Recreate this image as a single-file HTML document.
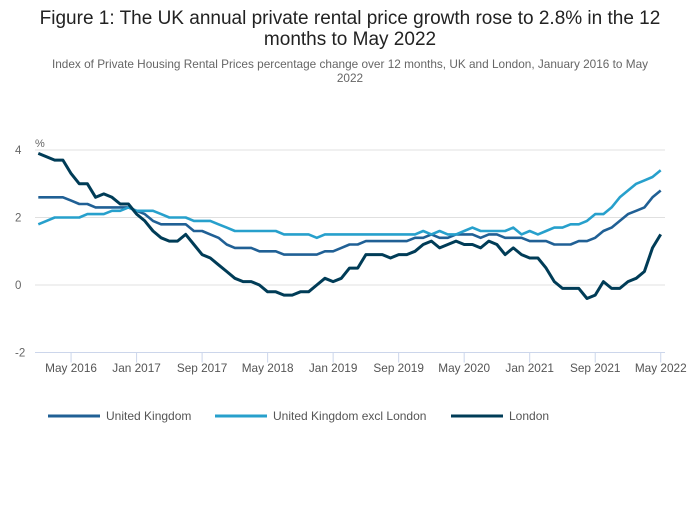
<!DOCTYPE html>
<html><head><meta charset="utf-8">
<style>
body{margin:0;background:#fff;font-family:"Liberation Sans",sans-serif;}
svg text{font-family:"Liberation Sans",sans-serif;}
</style></head>
<body>
<svg id="chart" width="700" height="502" viewBox="0 0 700 502">
<text x="350" y="24" text-anchor="middle" font-size="19" fill="#222">Figure 1: The UK annual private rental price growth rose to 2.8% in the 12</text>
<text x="350" y="45" text-anchor="middle" font-size="19" fill="#222">months to May 2022</text>
<text x="350" y="68" text-anchor="middle" font-size="11.8" fill="#666">Index of Private Housing Rental Prices percentage change over 12 months, UK and London, January 2016 to May</text>
<text x="350" y="82" text-anchor="middle" font-size="11.8" fill="#666">2022</text>
<text x="35" y="147" font-size="11" fill="#666">%</text>
<g id="grid"></g><g id="xaxis"></g><g id="series"></g><g id="legend"></g>
</svg>
<script>
const ns="http://www.w3.org/2000/svg";
const yTicks=[4,2,0,-2];
const xTickLabels=["May 2016","Jan 2017","Sep 2017","May 2018","Jan 2019","Sep 2019","May 2020","Jan 2021","Sep 2021","May 2022"];
const xTickIdx=[4,12,20,28,36,44,52,60,68,76];
const seriesNames=["United Kingdom","United Kingdom excl London","London"];
const ukValues=[2.6,2.6,2.6,2.6,2.5,2.4,2.4,2.3,2.3,2.3,2.3,2.3,
2.2,2.1,1.9,1.8,1.8,1.8,1.8,1.6,1.6,1.5,1.4,1.2,
1.1,1.1,1.1,1.0,1.0,1.0,0.9,0.9,0.9,0.9,0.9,1.0,
1.0,1.1,1.2,1.2,1.3,1.3,1.3,1.3,1.3,1.3,1.4,1.4,
1.5,1.4,1.4,1.5,1.5,1.5,1.4,1.5,1.5,1.4,1.4,1.4,
1.3,1.3,1.3,1.2,1.2,1.2,1.3,1.3,1.4,1.6,1.7,1.9,
2.1,2.2,2.3,2.6,2.8];
const exLondonValues=[1.8,1.9,2.0,2.0,2.0,2.0,2.1,2.1,2.1,2.2,2.2,2.3,
2.2,2.2,2.2,2.1,2.0,2.0,2.0,1.9,1.9,1.9,1.8,1.7,
1.6,1.6,1.6,1.6,1.6,1.6,1.5,1.5,1.5,1.5,1.4,1.5,
1.5,1.5,1.5,1.5,1.5,1.5,1.5,1.5,1.5,1.5,1.5,1.6,
1.5,1.6,1.5,1.5,1.6,1.7,1.6,1.6,1.6,1.6,1.7,1.5,
1.6,1.5,1.6,1.7,1.7,1.8,1.8,1.9,2.1,2.1,2.3,2.6,
2.8,3.0,3.1,3.2,3.4];
const londonValues=[3.9,3.8,3.7,3.7,3.3,3.0,3.0,2.6,2.7,2.6,2.4,2.4,
2.1,1.9,1.6,1.4,1.3,1.3,1.5,1.2,0.9,0.8,0.6,0.4,
0.2,0.1,0.1,0.0,-0.2,-0.2,-0.3,-0.3,-0.2,-0.2,0.0,0.2,
0.1,0.2,0.5,0.5,0.9,0.9,0.9,0.8,0.9,0.9,1.0,1.2,
1.3,1.1,1.2,1.3,1.2,1.2,1.1,1.3,1.2,0.9,1.1,0.9,
0.8,0.8,0.5,0.1,-0.1,-0.1,-0.1,-0.4,-0.3,0.1,-0.1,-0.1,
0.1,0.2,0.4,1.1,1.5];
const colors=["#206095","#27a0cc","#003c57"];
const X=i=>38.3+i*8.19;
const Y=v=>285-v*33.75;
function mk(t,a,p){const e=document.createElementNS(ns,t);for(const k in a)e.setAttribute(k,a[k]);p.appendChild(e);return e;}
const grid=document.getElementById('grid');
yTicks.forEach(v=>{
  if(v!==-2){const l=mk('line',{x1:35,x2:665,y1:Y(v),y2:Y(v),stroke:'#e0e0e0','stroke-width':1},grid);
  
  }
  const t=mk('text',{x:15,y:Y(v)+4,'font-size':11.5,fill:'#666'},grid);t.textContent=v;
  
  
});
const xa=document.getElementById('xaxis');
const ax=mk('line',{x1:35,x2:665,y1:Y(-2),y2:Y(-2),stroke:'#ccd6eb','stroke-width':1},xa);


xTickIdx.forEach((m,k)=>{
  const tk=mk('line',{x1:X(m),x2:X(m),y1:Y(-2),y2:Y(-2)+10,stroke:'#ccd6eb'},xa);
  
  
  const t=mk('text',{x:X(m),y:372,'text-anchor':'middle','font-size':11.8,fill:'#555'},xa);t.textContent=xTickLabels[k];
  
  
});
const sg=document.getElementById('series');
[ukValues,exLondonValues,londonValues].forEach((vals,s)=>{
  const d=vals.map((v,i)=>(i?'L':'M')+X(i).toFixed(1)+','+Y(v).toFixed(1)).join('');
  const p=mk('path',{d:d,fill:'none',stroke:colors[s],'stroke-width':s===2?3:2.6,'stroke-linejoin':'round'},sg);
  
  
});
const lg=document.getElementById('legend');
const lx=[48,215,451];
seriesNames.forEach((n,s)=>{
  const g=mk('g',{},lg);
  
  
  mk('line',{x1:lx[s],x2:lx[s]+52,y1:416,y2:416,stroke:colors[s],'stroke-width':3},g);
  const t=mk('text',{x:lx[s]+58,y:420,'font-size':12,fill:'#555'},g);t.textContent=n;
});
</script>
</body></html>
